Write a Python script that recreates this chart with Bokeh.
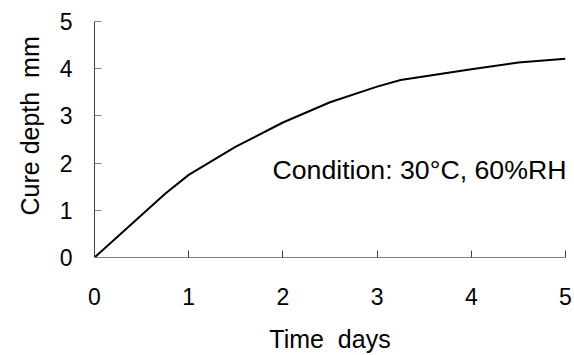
from bokeh.plotting import figure
from bokeh.models import Range1d, Label, FixedTicker, Title
from bokeh.embed import file_html
from bokeh.resources import INLINE

time_days = [0, 0.75, 1.0, 1.5, 2.0, 2.5, 3.0, 3.25, 4.0, 4.5, 5.0]
cure_depth = [0, 1.35, 1.75, 2.35, 2.86, 3.29, 3.62, 3.76, 3.99, 4.13, 4.21]
x_ticks = [0, 1, 2, 3, 4, 5]
y_ticks = [0, 1, 2, 3, 4, 5]
x_title = "Time \u00a0days"
y_title = "Cure depth \u00a0mm"
note = "Condition: 30°C, 60%RH"

FONT = "Liberation Sans"

p = figure(width=574, height=355, output_backend="svg", toolbar_location=None,
           x_range=Range1d(0, 5), y_range=Range1d(0, 5),
           min_border_left=94, min_border_right=9, min_border_top=21, min_border_bottom=97)
p.outline_line_color = None
p.xgrid.grid_line_color = None
p.ygrid.grid_line_color = None
p.background_fill_color = "white"
p.border_fill_color = "white"

p.line(time_days, cure_depth, line_color="black", line_width=2)

# x axis
xa = p.xaxis[0]
xa.ticker = FixedTicker(ticks=x_ticks)
xa.minor_tick_line_color = None
xa.major_tick_in = 7
xa.major_tick_out = 0
xa.axis_line_color = "#808080"
xa.major_tick_line_color = "#404040"
xa.major_label_text_font = FONT
xa.major_label_text_font_size = "23px"
xa.major_label_text_color = "black"
xa.major_label_standoff = 30
xa.axis_label = x_title
xa.axis_label_text_font = FONT
xa.axis_label_text_font_size = "25px"
xa.axis_label_text_font_style = "normal"
xa.axis_label_text_color = "black"
xa.axis_label_standoff = 17

# y axis
ya = p.yaxis[0]
ya.ticker = FixedTicker(ticks=y_ticks)
ya.minor_tick_line_color = None
ya.major_tick_in = 7
ya.major_tick_out = 0
ya.axis_line_color = "#404040"
ya.major_tick_line_color = "#808080"
ya.major_label_text_font = FONT
ya.major_label_text_font_size = "23px"
ya.major_label_text_color = "black"
ya.major_label_standoff = 22

# y title in the left panel, starting above the frame bottom
p.add_layout(Title(text=y_title, align="left", offset=42, standoff=26,
                   text_font=FONT, text_font_size="25px", text_font_style="normal",
                   text_color="black"), "left")

# annotation
p.add_layout(Label(x=5.01, y=1.86, text=note, text_align="right", text_baseline="alphabetic",
                   text_font=FONT, text_font_size="26.7px", text_color="black"))

open("out.html", "w").write(file_html(p, INLINE))
